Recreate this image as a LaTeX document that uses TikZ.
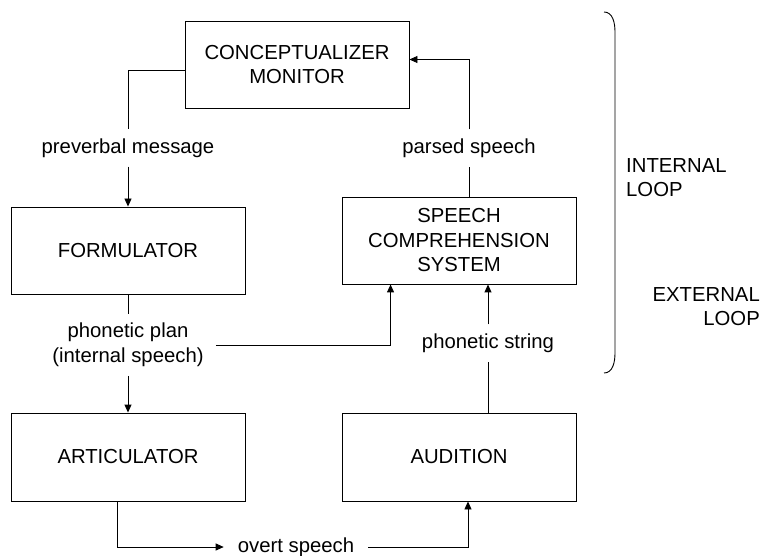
\documentclass[tikz,border=0pt]{standalone}
\usepackage{fontspec}
\setmainfont{Liberation Sans}
\usetikzlibrary{arrows.meta}
\tikzset{
  stage/.style={draw,line width=0.9pt,minimum width=234pt,minimum height=87pt,align=center,inner sep=0pt},
  flow/.style={inner xsep=9pt,inner ysep=9pt,align=center},
  link/.style={line width=0.9pt},
  arr/.style={link,-{Triangle[length=8pt,width=7pt]}}
}
\begin{document}
\begin{tikzpicture}[x=1pt,y=-1pt,font=\fontsize{20.3}{24.5}\selectfont]
	\useasboundingbox (0,0) rectangle (761,556);
	% boxes
	\node[stage,minimum width=224pt] (concept) at (297,64.5) {CONCEPTUALIZER\\MONITOR};
	\node[stage] (formul) at (128,250.5) {FORMULATOR};
	\node[stage] (speech) at (459,240.5) {SPEECH\\COMPREHENSION\\SYSTEM};
	\node[stage,minimum height=88pt] (artic) at (128,457) {ARTICULATOR};
	\node[stage,minimum height=88pt] (audit) at (459,457) {AUDITION};
	
	% labels on the links
	\node[flow] (pvm) at (128,148) {preverbal message};
	\node[flow] (pars) at (469,148) {parsed speech};
	\node[flow,inner xsep=12pt] (plan) at (128,345) {phonetic plan\\(internal speech)};
	\node[flow] (pstr) at (488,343) {phonetic string};
	\node[flow,inner xsep=14pt] (overt) at (296,547) {overt speech};
	
	\draw [link] ([yshift=-6pt]concept.west) -| (pvm.north);
	\draw [arr] (pvm.south) -- (formul.north);
	\draw [link] (speech.north -| pars.south) -- (pars.south);
	\draw [arr] (pars.north) |- ([yshift=5pt]concept.east);
	\draw [link] (formul.south) -- (plan.north);
	\draw [arr] (plan.south) -- (artic.north);
	\draw [arr] (plan.east) -| ([xshift=49pt]speech.south west);
	\draw [link] (audit.north -| pstr.south) -- (pstr.south);
	\draw [arr] (pstr.north) -- (speech.south -| pstr.north);
	\draw [arr] ([xshift=-11pt]artic.south) |- (overt.west);
	\draw [arr] (overt.east) -| ([xshift=9pt]audit.south);
	
	% loops
	\draw [link] (604,12) to[out=0,in=90] (615,32) -- (615,353) to[out=-90,in=0] (604,373);
	\node[anchor=north west,align=left,inner sep=0pt] (inner) at (626,158) {INTERNAL\\LOOP};
	\node[anchor=north east,align=right,inner sep=0pt] (outer) at (760,287) {EXTERNAL\\LOOP};
\end{tikzpicture}
\end{document}
